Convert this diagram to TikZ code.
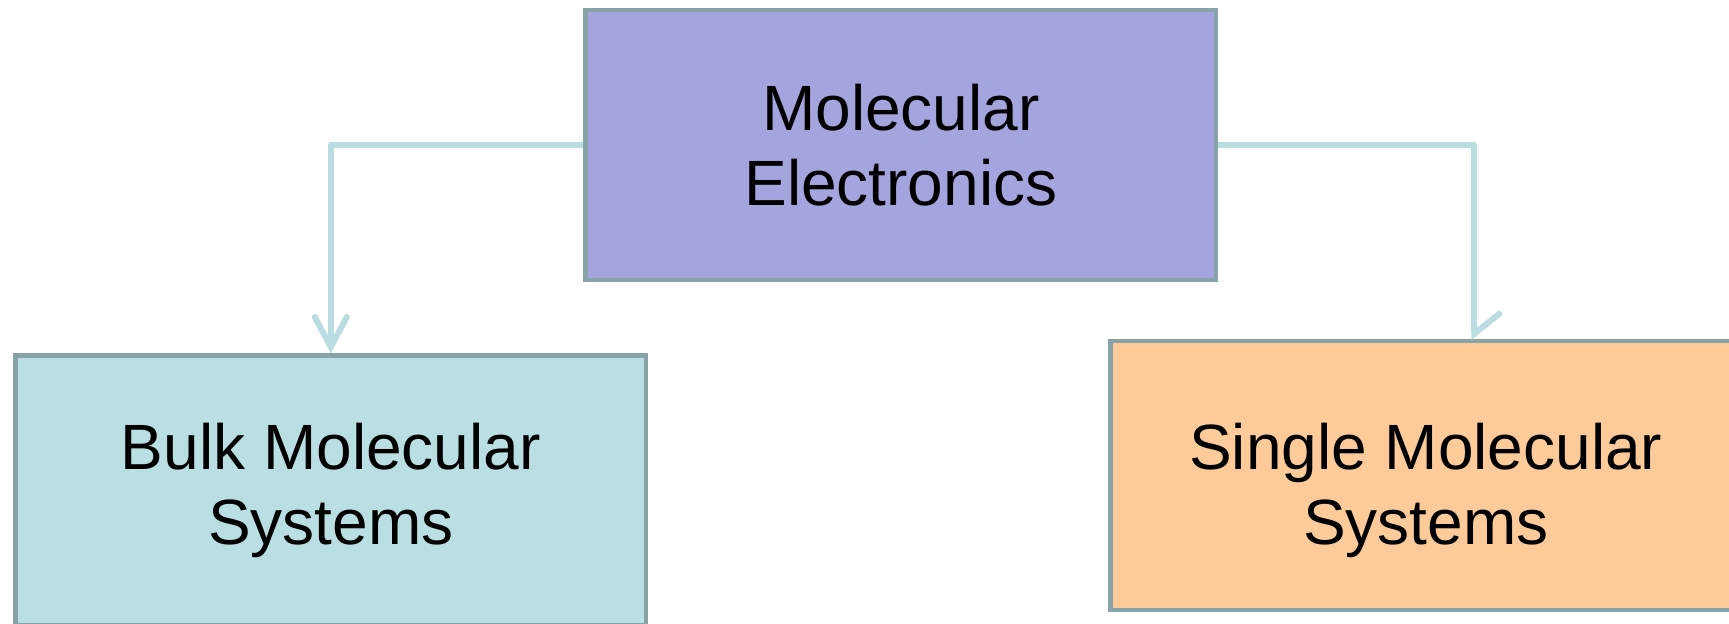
\documentclass[tikz,border=0pt]{standalone}
\usepackage{fontspec}
\setmainfont{Liberation Sans}
\usetikzlibrary{arrows.meta}
\definecolor{topfill}{HTML}{A4A4DE}
\definecolor{leftfill}{HTML}{BADFE2}
\definecolor{rightfill}{HTML}{FDCB9A}
\definecolor{boxline}{HTML}{88A3A5}
\definecolor{conn}{HTML}{B9DDE0}
\begin{document}
\begin{tikzpicture}[x=0.5pt,y=-0.5pt,
  box/.style={draw=boxline,line width=2.1pt,rectangle,inner sep=0pt,
    minimum width=315.4pt,minimum height=135pt},
  lbl/.style={align=center,font=\fontsize{32}{37.5}\selectfont},
  link/.style={draw=conn,line width=3pt,line join=round}]
\useasboundingbox (0,0) rectangle (1729,624);
\clip (0,0) rectangle (1729,624);
\node[box,fill=topfill] (top) at (900.9,145) {};
\node[lbl] (toptext) at (900.9,145) {Molecular\\Electronics};
\node[box,fill=leftfill] (bulk) at (330.8,490.5) {};
\node[lbl] (bulktext) at (330.8,490.7) {Bulk Molecular\\Systems};
\node[box,fill=rightfill,minimum height=134.5pt] (single) at (1425.8,475.3) {};
\node[lbl] (singletext) at (1425.8,490.7) {Single Molecular\\Systems};
\coordinate (stip) at (1474.3,340);
\draw[link,-{Straight Barb[length=15pt,width=16pt,line cap=round]}] (top.west) -| (bulk.north);
\draw[link,-{Straight Barb[left,length=10pt,width=25pt,line cap=round]}] (top.east) -| (stip);
\end{tikzpicture}
\end{document}
